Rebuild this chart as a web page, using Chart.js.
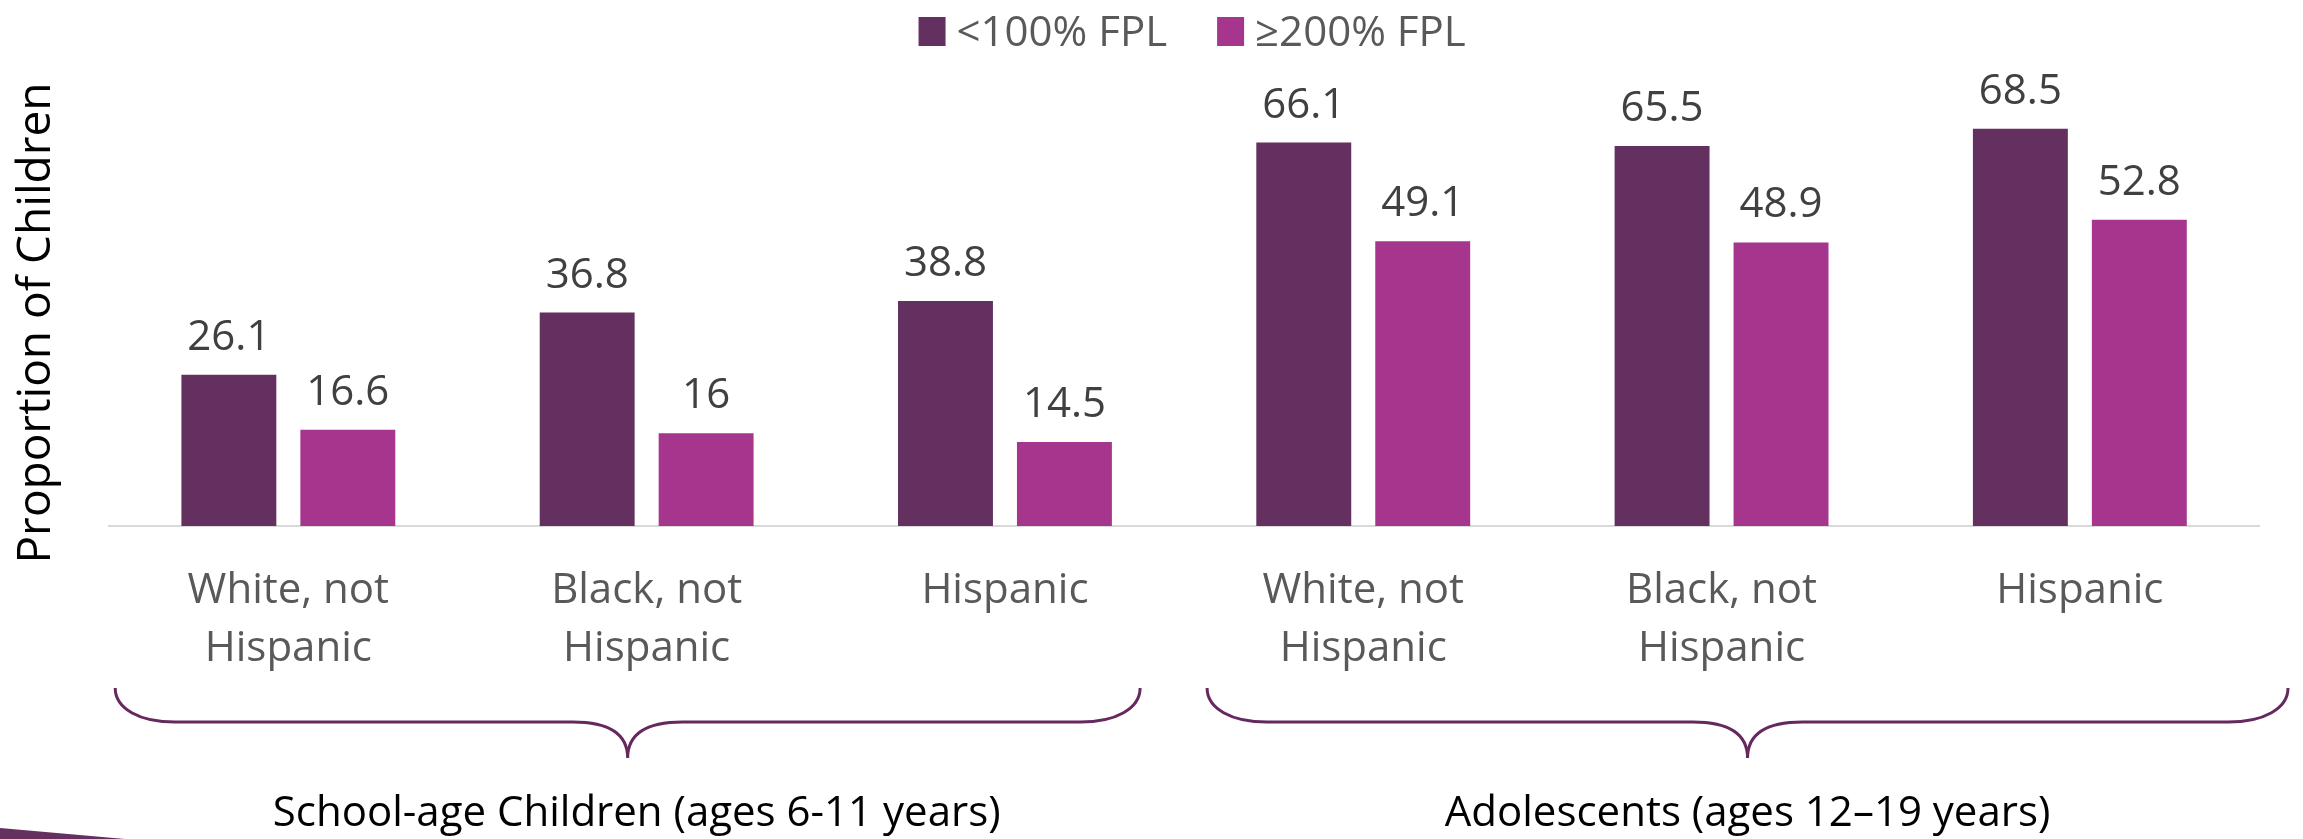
<!DOCTYPE html>
<html>
<head>
<meta charset="utf-8">
<script src="https://cdn.jsdelivr.net/npm/chart.js@4.4.1/dist/chart.umd.min.js"></script>
<style>
  html, body { margin: 0; padding: 0; background: #fff; }
  #contenedor { width: 2303px; height: 839px; }
</style>
</head>
<body>
<div id="contenedor"><canvas id="chartFPL" width="2303" height="839"></canvas></div>
<script>
// Datos del gráfico
const categorias = [
    ["White, not", "Hispanic"], ["Black, not", "Hispanic"], "Hispanic",
    ["White, not", "Hispanic"], ["Black, not", "Hispanic"], "Hispanic"
];
const valoresBajo100 = [26.1, 36.8, 38.8, 66.1, 65.5, 68.5];
const valoresSobre200 = [16.6, 16, 14.5, 49.1, 48.9, 52.8];
const nombresSeries = ["<100% FPL", "≥200% FPL"];
const grupos = ["School-age Children (ages 6-11 years)", "Adolescents (ages 12–19 years)"];
const rangoGrupos = [[0, 2], [3, 5]];
const tituloEjeY = "Proportion of Children";

const colores = ["#63305F", "#A6358E"];
const fuente = "'Open Sans', 'DejaVu Sans', sans-serif";

// Etiquetas de valor sobre cada barra
const etiquetasValor = {
    id: "etiquetasValor",
    afterDatasetsDraw(chart) {
        let ctx = chart.ctx;
        ctx.save();
        ctx.font = "42px " + fuente;
        ctx.fillStyle = "#404040";
        ctx.textAlign = "center";
        ctx.textBaseline = "alphabetic";
        chart.data.datasets.forEach((ds, i) => {
            chart.getDatasetMeta(i).data.forEach((barra, j) => {
                ctx.fillText(String(ds.data[j]), barra.x, barra.y - 25);
            });
        });
        ctx.restore();
    }
};

// Leyenda, llaves de grupo y textos de grupo
const decoracion = {
    id: "decoracion",
    afterDraw(chart) {
        let ctx = chart.ctx;
        let area = chart.chartArea;
        let ejeX = chart.scales.x;
        ctx.save();

        // leyenda manual
        ctx.font = "42px " + fuente;
        ctx.textBaseline = "alphabetic";
        ctx.textAlign = "left";
        let anchos = nombresSeries.map(t => ctx.measureText(t).width);
        let total = 27 + 11 + anchos[0] + 50 + 27 + 11 + anchos[1];
        let xl = (area.left + area.right) / 2 + 8 - total / 2;
        nombresSeries.forEach((t, i) => {
            ctx.fillStyle = colores[i];
            ctx.fillRect(xl, 17, 27, 29);
            ctx.fillStyle = "#595959";
            ctx.fillText(t, xl + 38, 46);
            xl += 38 + anchos[i] + 50;
        });

        // llaves
        let paso = ejeX.getPixelForValue(1) - ejeX.getPixelForValue(0);
        let ajustes = [[6, -44], [23, 29]];
        let yTop = area.bottom + 162, yMid = area.bottom + 196, yTip = area.bottom + 232;
        ctx.strokeStyle = "#66295F";
        ctx.lineWidth = 3;
        rangoGrupos.forEach((r, i) => {
            let L = ejeX.getPixelForValue(r[0]) - paso / 2 + ajustes[i][0];
            let R = ejeX.getPixelForValue(r[1]) + paso / 2 + ajustes[i][1];
            let cx = (L + R) / 2;
            let h = yMid - yTop, rad = 60;
            ctx.beginPath();
            ctx.moveTo(L, yTop);
            ctx.bezierCurveTo(L, yTop + 0.6 * h, L + 0.4 * rad, yMid, L + rad, yMid);
            ctx.lineTo(cx - 55, yMid);
            ctx.bezierCurveTo(cx - 22, yMid, cx, yMid + 10, cx, yTip);
            ctx.bezierCurveTo(cx, yMid + 10, cx + 22, yMid, cx + 55, yMid);
            ctx.lineTo(R - rad, yMid);
            ctx.bezierCurveTo(R - 0.4 * rad, yMid, R, yTop + 0.6 * h, R, yTop);
            ctx.stroke();

            ctx.font = "42px " + fuente;
            ctx.fillStyle = "#000000";
            ctx.textAlign = "center";
            ctx.fillText(grupos[i], cx + (i === 0 ? 9 : 0), area.bottom + 300);
        });

        // cuña decorativa abajo a la izquierda
        ctx.fillStyle = "#63305F";
        ctx.beginPath();
        ctx.moveTo(0, chart.height - 11);
        ctx.lineTo(125, chart.height);
        ctx.lineTo(0, chart.height);
        ctx.closePath();
        ctx.fill();

        ctx.restore();
    }
};

let ctx = document.getElementById("chartFPL").getContext("2d");
let grafico = new Chart(ctx, {
    type: "bar",
    data: {
        labels: categorias,
        datasets: [
            { label: nombresSeries[0], data: valoresBajo100, backgroundColor: colores[0] },
            { label: nombresSeries[1], data: valoresSobre200, backgroundColor: colores[1] }
        ]
    },
    options: {
        responsive: false,
        animation: false,
        maintainAspectRatio: false,
        categoryPercentage: 0.664,
        barPercentage: 0.798,
        layout: { padding: { top: 120, right: 44, bottom: 125, left: 0 } },
        plugins: {
            legend: { display: false },
            tooltip: { enabled: false }
        },
        scales: {
            x: {
                grid: { display: false, drawTicks: false },
                border: { display: true, color: "#D9D9D9", width: 2 },
                ticks: {
                    color: "#595959",
                    padding: 36,
                    maxRotation: 0,
                    autoSkip: false,
                    font: { family: fuente, size: 42, lineHeight: 1.38 }
                }
            },
            y: {
                min: 0,
                max: 70,
                grid: { display: false, drawTicks: false },
                border: { display: false },
                ticks: { display: false },
                title: {
                    display: true,
                    text: tituloEjeY,
                    color: "#000000",
                    font: { family: fuente, size: 46, lineHeight: 1.2 },
                    padding: { top: 9, bottom: 45 }
                }
            }
        }
    },
    plugins: [etiquetasValor, decoracion]
});
</script>
</body>
</html>
